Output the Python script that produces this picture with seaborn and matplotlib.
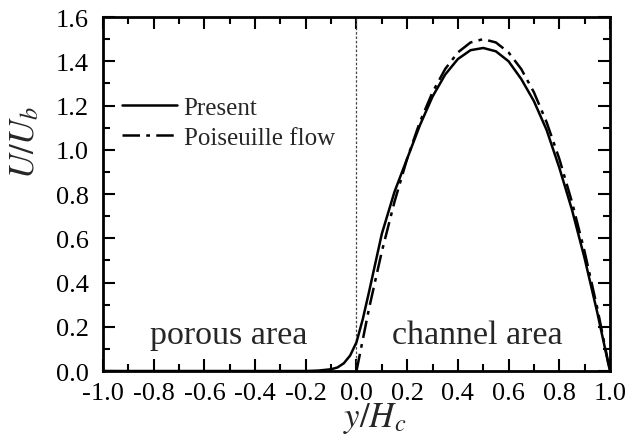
import matplotlib
matplotlib.use("Agg")
import matplotlib.pyplot as plt
import seaborn as sns
import pandas as pd
from matplotlib.ticker import MultipleLocator

# ---- data ----
present_x = [-1.0, -0.9, -0.8, -0.7, -0.6, -0.5, -0.4, -0.3, -0.2, -0.15, -0.1, -0.075,
             -0.05, -0.025, 0.0, 0.025, 0.05, 0.075, 0.1, 0.15, 0.2, 0.25, 0.3, 0.35, 0.4,
             0.45, 0.5, 0.55, 0.6, 0.65, 0.7, 0.75, 0.8, 0.85, 0.9, 0.95, 1.0]
present_u = [0.0, 0.0, 0.0, 0.0, 0.0, 0.0, 0.0, 0.0, 0.0, 0.002, 0.008, 0.016,
             0.035, 0.07, 0.13, 0.235, 0.36, 0.49, 0.62, 0.81, 0.96, 1.11, 1.24, 1.34, 1.41,
             1.45, 1.46, 1.445, 1.40, 1.32, 1.22, 1.09, 0.92, 0.73, 0.51, 0.265, 0.0]

pois_x = [0.0, 0.05, 0.1, 0.15, 0.2, 0.25, 0.3, 0.35, 0.4, 0.45, 0.5,
          0.55, 0.6, 0.65, 0.7, 0.75, 0.8, 0.85, 0.9, 0.95, 1.0]
pois_u = [0.0, 0.285, 0.54, 0.765, 0.96, 1.125, 1.26, 1.365, 1.44, 1.485, 1.5,
          1.485, 1.44, 1.365, 1.26, 1.125, 0.96, 0.765, 0.54, 0.285, 0.0]

x_ticks = [-1.0, -0.8, -0.6, -0.4, -0.2, 0.0, 0.2, 0.4, 0.6, 0.8, 1.0]
y_ticks = [0.0, 0.2, 0.4, 0.6, 0.8, 1.0, 1.2, 1.4, 1.6]

sns.set_theme(style="ticks")
plt.rcParams["font.family"] = ["Liberation Serif", "DejaVu Serif"]
plt.rcParams["mathtext.fontset"] = "stix"

df_p = pd.DataFrame({"x": present_x, "u": present_u})
df_q = pd.DataFrame({"x": pois_x, "u": pois_u})

fig = plt.figure(figsize=(6.4, 4.35), dpi=100)
ax = fig.add_axes([0.161, 0.1448, 0.792, 0.8138])

ax.axvline(0.0, color="#444444", lw=0.9, ls=(0, (2, 1.5)), zorder=1)
sns.lineplot(data=df_p, x="x", y="u", ax=ax, color="black", lw=1.8,
             label="Present", sort=False, estimator=None)
sns.lineplot(data=df_q, x="x", y="u", ax=ax, color="black", lw=1.8,
             label="Poiseuille flow", sort=False, estimator=None)
ax.lines[-1].set_linestyle((0, (7, 2.5, 1.5, 2.5)))

ax.set_xlim(-1.0, 1.0)
ax.set_ylim(0.0, 1.6)
ax.set_xticks(x_ticks)
ax.set_yticks(y_ticks)
ax.set_xticklabels([f"{v:.1f}" for v in x_ticks])
ax.set_yticklabels([f"{v:.1f}" for v in y_ticks])
ax.xaxis.set_minor_locator(MultipleLocator(0.1))
ax.yaxis.set_minor_locator(MultipleLocator(0.1))
ax.tick_params(which="both", direction="in", top=True, right=True, width=1.5, colors="black")
ax.tick_params(which="major", length=8.5, labelsize=19)
ax.tick_params(which="minor", length=5)
ax.tick_params(axis="y", which="major", pad=10)
ax.tick_params(axis="x", which="major", pad=8)
for s in ax.spines.values():
    s.set_linewidth(2.0)
    s.set_color("black")

ax.set_xlabel("$y/H_c$", fontsize=25)
ax.set_ylabel("$U/U_b$", fontsize=25)
ax.xaxis.set_label_coords(0.536, -0.082)
ax.yaxis.set_label_coords(-0.12, 0.65)

ax.text(-0.505, 0.165, "porous area", fontsize=24.5, ha="center", va="center")
ax.text(0.477, 0.165, "channel area", fontsize=24.5, ha="center", va="center")

leg = ax.legend(loc="upper left", bbox_to_anchor=(0.038, 0.776), frameon=False,
                fontsize=18, handlelength=2.2, handletextpad=0.25,
                labelspacing=0.3, borderpad=0, borderaxespad=0)
for h in leg.get_lines():
    h.set_linewidth(1.8)

fig.savefig("out.png", dpi=100)
